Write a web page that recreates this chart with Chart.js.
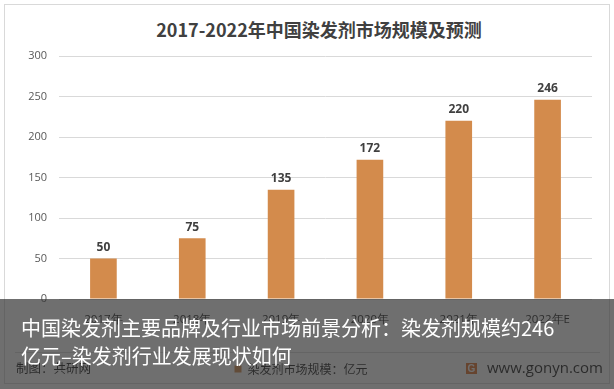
<!DOCTYPE html>
<html>
<head>
<meta charset="utf-8">
<script src="https://cdn.jsdelivr.net/npm/chart.js@4/dist/chart.umd.min.js"></script>
<style>
  html, body { margin: 0; padding: 0; background: #fff; }
  #wrap { position: relative; width: 614px; height: 389px; overflow: hidden; font-family: "Noto Sans CJK SC", sans-serif; }
  #frame { position: absolute; left: 4px; top: 4px; width: 606px; height: 380px; border: 1px solid #d9d9d9; box-sizing: border-box; }
  #sep { position: absolute; left: 15px; top: 352px; width: 585px; height: 1px; background: #d9d9d9; }
  #title { position: absolute; left: 0; top: 18px; width: 638px; text-align: center; font-size: 18px; line-height: 22px; font-weight: bold; color: #404040; }
  canvas { position: absolute; left: 0; top: 0; }
  .foot { position: absolute; font-size: 12.5px; line-height: 16px; color: #1a1a1a; }
  #overlay { position: absolute; left: 0; top: 299px; width: 614px; height: 90px; background: rgba(50, 50, 50, 0.7); }
  #overlay p { margin: 0; position: absolute; left: 21px; color: #fff; font-size: 20px; line-height: 28px; white-space: nowrap; }
  .logo { display: inline-block; width: 11px; height: 11px; background: #e0702a; color: #fff; font: bold 10px sans-serif; line-height: 11px; text-align: center; vertical-align: middle; margin-right: 10px; }
</style>
</head>
<body>
<div id="wrap">
  <div id="frame"></div>
  <div id="sep"></div>
  <div id="title">2017-2022年中国染发剂市场规模及预测</div>
  <canvas id="chart" width="614" height="389"></canvas>
  <div class="foot" style="left:16px; top:360px;">制图：共研网</div>
  <div class="foot" style="left:466px; top:358px; font-family:'Open Sans', sans-serif; font-size:15px; line-height:18px;"><span class="logo">G</span>www.gonyn.com</div>
  <div id="overlay">
    <p style="top:15px;">中国染发剂主要品牌及行业市场前景分析：染发剂规模约246</p>
    <p style="top:43px;">亿元–染发剂行业发展现状如何</p>
  </div>
</div>
<script>
// 数据
const years = ['2017年', '2018年', '2019年', '2020年', '2021年', '2022年E'];
const marketSize = [50, 75, 135, 172, 220, 246];
const yTicks = [0, 50, 100, 150, 200, 250, 300];

const barColor = '#D38B4C';

// 柱顶数值标签
const valueLabels = {
    id: 'valueLabels',
    afterDatasetsDraw(chart) {
        const ctx = chart.ctx;
        const meta = chart.getDatasetMeta(0);
        ctx.save();
        ctx.font = 'bold 12px "Open Sans", sans-serif';
        ctx.fillStyle = '#404040';
        ctx.textAlign = 'center';
        ctx.textBaseline = 'bottom';
        meta.data.forEach((bar, i) => {
            ctx.fillText(marketSize[i], bar.x, bar.y - 5);
        });
        ctx.restore();
    }
};

new Chart(document.getElementById('chart'), {
    type: 'bar',
    data: {
        labels: years,
        datasets: [{
            label: '染发剂市场规模：亿元',
            data: marketSize,
            backgroundColor: barColor,
            barPercentage: 0.6,
            categoryPercentage: 0.5
        }]
    },
    options: {
        responsive: false,
        animation: false,
        layout: { padding: { left: 10, right: 22, top: 56, bottom: 4 } },
        scales: {
            x: {
                grid: { display: false },
                border: { display: false },
                ticks: { color: '#1a1a1a', font: { size: 11.5, family: '"Open Sans", sans-serif' }, padding: 6 },
                afterFit(scale) { scale.height = 54; }
            },
            y: {
                min: 0,
                max: 300,
                afterBuildTicks(scale) { scale.ticks = yTicks.map(v => ({ value: v })); },
                grid: { color: '#d9d9d9', drawTicks: false },
                border: { display: false },
                ticks: { color: '#595959', font: { size: 11, family: '"Open Sans", sans-serif' }, padding: 12 },
                afterFit(scale) { scale.width = 49; }
            }
        },
        plugins: {
            title: { display: false },
            legend: {
                position: 'bottom',
                labels: {
                    color: '#1a1a1a',
                    font: { size: 12, family: '"Noto Sans CJK SC", sans-serif' },
                    boxWidth: 7,
                    boxHeight: 7,
                    padding: 10
                }
            },
            tooltip: { enabled: false }
        }
    },
    plugins: [valueLabels]
});
</script>
</body>
</html>
